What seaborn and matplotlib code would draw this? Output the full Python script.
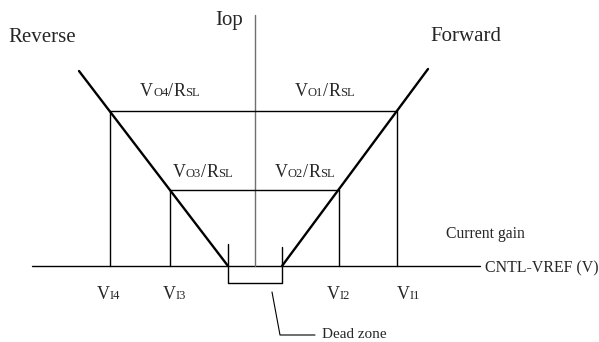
import matplotlib
matplotlib.use("Agg")
import matplotlib.pyplot as plt
import matplotlib.transforms as mtransforms
import numpy as np
import pandas as pd
import seaborn as sns

# ---------------- data (conceptual units; origin = axes crossing) ----------------
vi_names = ["4", "3", "2", "1"]              # subscripts of V_I labels
vi_values = [-1.45, -0.85, 0.84, 1.42]       # input voltage thresholds
level_names = ["4", "3", "2", "1"]           # subscripts of V_O labels
level_values = [1.55, 0.76, 0.76, 1.55]      # V_O/R_SL current levels
dead_zone = [-0.27, 0.27]                    # dead-zone edges
reverse_x = [-1.76, -0.27]
reverse_y = [1.95, 0.0]
forward_x = [0.27, 1.73]
forward_y = [0.0, 1.97]

sns.set_theme(style="white")
plt.rcParams["font.family"] = ["Liberation Serif", "DejaVu Serif"]

W, H, DPI = 5.99, 3.42, 100
fig = plt.figure(figsize=(W, H), dpi=DPI)
ax = fig.add_axes([0, 0, 1, 1])
ax.set_xlim(-2.55, 3.44)
ax.set_ylim(-0.76, 2.66)
ax.axis("off")

thin = 1.0
black = "#000000"

# axes
ax.plot([-2.23, 2.25], [0, 0], color=black, lw=thin)
ax.plot([0, 0], [0, 2.51], color="#707070", lw=thin)

# gain lines through seaborn
gain = pd.DataFrame({
    "x": reverse_x + forward_x,
    "y": reverse_y + forward_y,
    "side": ["Reverse"] * 2 + ["Forward"] * 2,
})
sns.lineplot(data=gain, x="x", y="y", units="side", estimator=None, sort=False,
             color=black, lw=1.7, ax=ax, legend=False)

# current level lines
ax.plot([vi_values[0], vi_values[3]], [level_values[0], level_values[3]], color=black, lw=thin)
ax.plot([vi_values[1], vi_values[2]], [level_values[1], level_values[2]], color=black, lw=thin)
for v, lv in zip(vi_values, level_values):
    ax.plot([v, v], [0, lv], color=black, lw=thin)

# dead zone bracket
ax.plot([dead_zone[0], dead_zone[0], dead_zone[1], dead_zone[1]],
        [0.22, -0.17, -0.17, 0.19], color=black, lw=thin)
ax.plot([0.17, 0.25, 0.60], [-0.26, -0.69, -0.69], color=black, lw=0.8)

# ---------------- text ----------------
ax.text(-0.40, 2.41, "Iop", fontsize=15, ha="left", va="baseline")
ax.text(-2.47, 2.24, "Reverse", fontsize=15, ha="left", va="baseline")
ax.text(1.75, 2.25, "Forward", fontsize=15, ha="left", va="baseline")
ax.text(1.91, 0.28, "Current gain", fontsize=11.3, ha="left", va="baseline")
ax.text(2.30, -0.02, "CNTL-VREF (V)", fontsize=11.4, ha="left", va="center")
ax.text(0.67, -0.72, "Dead zone", fontsize=11, ha="left", va="baseline")

renderer = fig.canvas.get_renderer()


def mixed(x, y, parts):
    xd, yd = ax.transData.transform((x, y))
    ident = mtransforms.IdentityTransform()
    for s, size, adj in parts:
        t = ax.text(xd, yd, s, fontsize=size, ha="left", va="baseline", transform=ident)
        bb = t.get_window_extent(renderer=renderer)
        xd = bb.x1 + adj


big, small = 13, 9
vo_pos = {"4": (-1.15, 1.70), "1": (0.40, 1.70), "3": (-0.82, 0.89), "2": (0.20, 0.89)}
for name in level_names:
    x, y = vo_pos[name]
    mixed(x, y, [("V", big, 0), ("O" + name, small, 0), ("/", big, 0),
                 ("R", big, -0.5), ("SL", small, 0)])

vi_text_x = [-1.58, -0.92, 0.72, 1.42]
for name, x in zip(vi_names, vi_text_x):
    mixed(x, -0.33, [("V", 13, 0), ("I" + name, 9, 0)])

fig.savefig("out.png", dpi=DPI, facecolor="white")
